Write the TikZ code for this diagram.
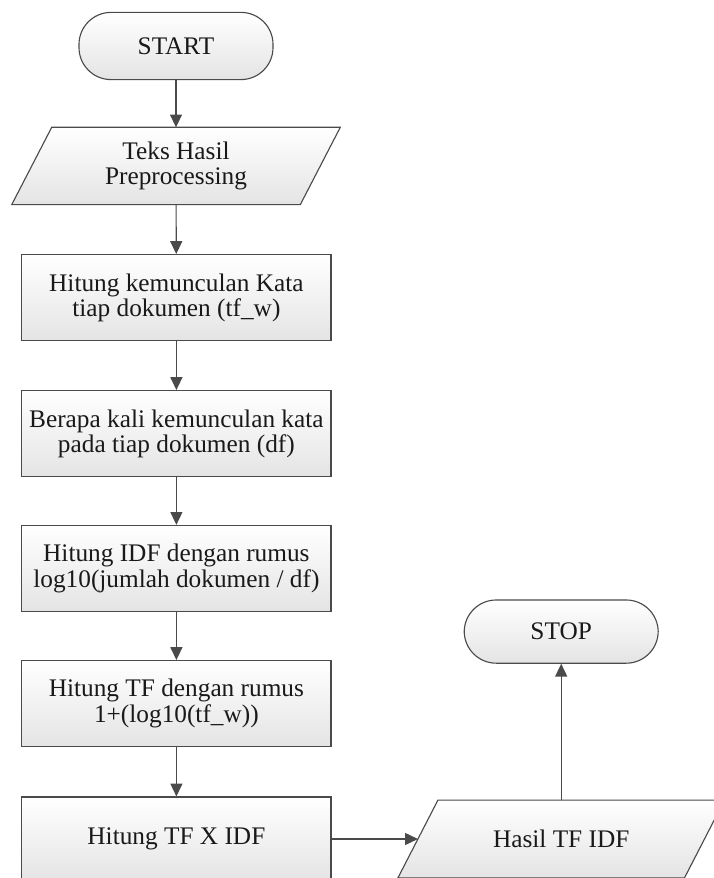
\documentclass[tikz,border=0pt]{standalone}
\usepackage{fontspec}
\setmainfont{Liberation Serif}
\usetikzlibrary{arrows.meta, backgrounds}
\definecolor{line-gray}{HTML}{4A4A4A}
\definecolor{fill-gray}{HTML}{E4E4E4}

\begin{document}
\begin{tikzpicture}[
      every node/.style={font=\fontsize{18}{18}\selectfont, text=black!90, align=center},
      proc/.style={draw=line-gray, line width=0.8pt, top color=white, bottom color=fill-gray,
                   minimum width=7.73cm, minimum height=2.15cm, inner sep=0pt},
      term/.style={draw=line-gray, line width=0.8pt, top color=white, bottom color=fill-gray,
                   rounded corners=0.8cm, minimum width=4.85cm, inner sep=0pt},
      io/.style={minimum width=7.2cm, minimum height=1.92cm, inner sep=0pt},
      io line/.style={draw=line-gray, line width=0.8pt, top color=white, bottom color=fill-gray},
      flow/.style={draw=line-gray, line width=0.8pt, -{Triangle[width=0.3cm, length=0.32cm]}}]
    \useasboundingbox (0,0) rectangle (17.825,21.95);
    % main column
    \node[term, minimum height=1.68cm] (start) at (4.4,20.8) {START};
    \node[io] (input) at (4.4,17.8) {Teks Hasil\\Preprocessing};
    \node[proc] (tfw) at (4.41,14.51) {Hitung kemunculan Kata\\tiap dokumen (tf\_w)};
    \node[proc] (df)  at (4.41,11.11) {Berapa kali kemunculan kata\\pada tiap dokumen (df)};
    \node[proc] (idf) at (4.41,7.74)  {Hitung IDF dengan rumus\\log10(jumlah dokumen / df)};
    \node[proc] (tf)  at (4.41,4.36)  {Hitung TF dengan rumus\\1+(log10(tf\_w))};
    \node[proc, minimum height=2.1cm] (tfidf) at (4.41,0.975) {Hitung TF X IDF};
    % output and stop
    \node[io, minimum width=7.15cm, minimum height=1.93cm] (output) at (14.03,0.975) {Hasil TF IDF};
    \node[term, minimum height=1.58cm] (stop) at (14.03,6.16) {STOP};
    % parallelogram outlines behind the texts
    \begin{scope}[on background layer]
      \foreach \n in {input,output}
        \draw[io line] ([xshift=-0.5cm]\n.south west) -- ([xshift=0.5cm]\n.north west)
          -- ([xshift=0.5cm]\n.north east) -- ([xshift=-0.5cm]\n.south east) -- cycle;
    \end{scope}
    % connectors
    \draw[flow] (start) -- (input);
    \draw[flow] (input) -- (tfw);
    \draw[flow] (tfw) -- (df);
    \draw[flow] (df) -- (idf);
    \draw[flow] (idf) -- (tf);
    \draw[flow] (tf) -- (tfidf);
    \draw[flow] (tfidf) -- (output);
    \draw[flow] (output) -- (stop);
\end{tikzpicture}
\end{document}
